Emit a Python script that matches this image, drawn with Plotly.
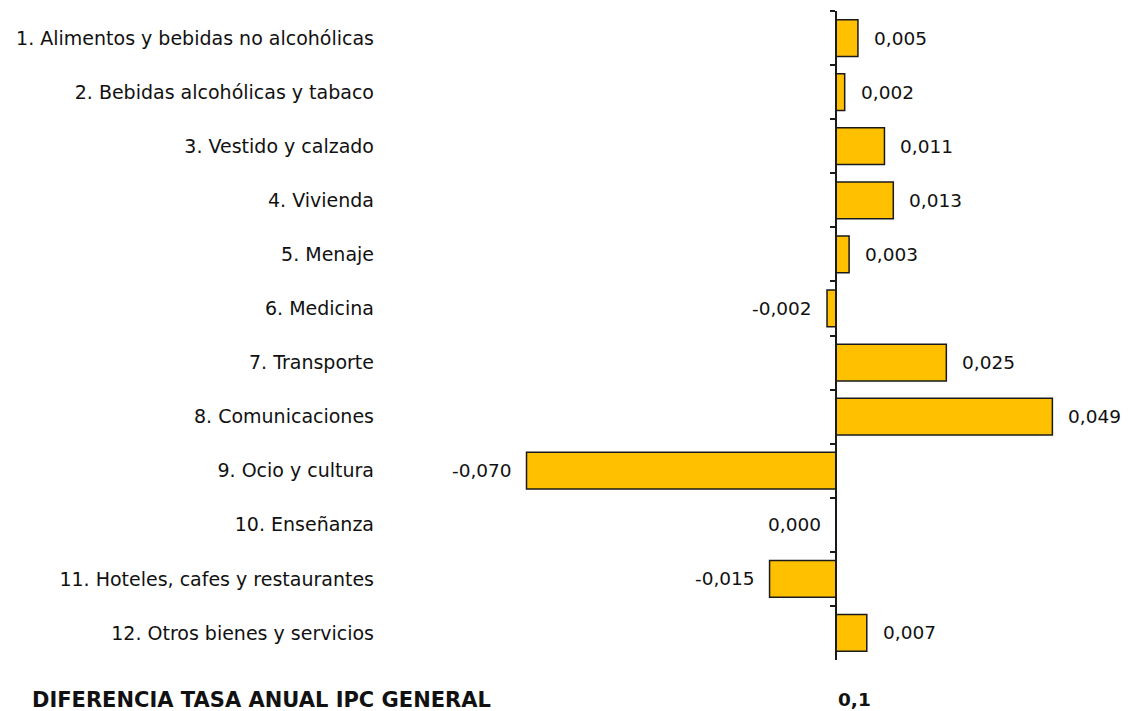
import plotly.graph_objects as go

categories = [
    "1. Alimentos y bebidas no alcohólicas",
    "2. Bebidas alcohólicas y tabaco",
    "3. Vestido y calzado",
    "4. Vivienda",
    "5. Menaje",
    "6. Medicina",
    "7. Transporte",
    "8. Comunicaciones",
    "9. Ocio y cultura",
    "10. Enseñanza",
    "11. Hoteles, cafes y restaurantes",
    "12. Otros bienes y servicios",
]
values = [0.005, 0.002, 0.011, 0.013, 0.003, -0.002, 0.025, 0.049, -0.070, 0.000, -0.015, 0.007]
footer_label = "DIFERENCIA TASA ANUAL IPC GENERAL"
footer_value = "0,1"

def fmt(v):
    return f"{v:.3f}".replace(".", ",")

W, H = 1128, 711
L, R, T, B = 382, 8, 11, 51
x_min, x_max = -0.1027, 0.0643
zero_pos = (0 - x_min) / (x_max - x_min)

FONT = "DejaVu Sans, Arial, sans-serif"
FS = 18.5
TXT = "#111111"

fig = go.Figure()
fig.add_trace(go.Bar(
    x=values, y=categories, orientation="h",
    marker=dict(color="#FFC000", line=dict(color="#1a1a1a", width=1.5)),
    width=0.68, hoverinfo="skip", showlegend=False,
))
# invisible trace for the zero axis
fig.add_trace(go.Scatter(
    x=[0] * len(categories), y=categories, yaxis="y2", mode="markers",
    marker=dict(opacity=0), hoverinfo="skip", showlegend=False,
))

annotations = []
for c, v in zip(categories, values):
    if v > 0:
        annotations.append(dict(x=v, y=c, text=fmt(v), xanchor="left", xshift=14, showarrow=False,
                                font=dict(family=FONT, size=FS, color=TXT)))
    else:
        annotations.append(dict(x=v, y=c, text=fmt(v), xanchor="right", xshift=-13, showarrow=False,
                                font=dict(family=FONT, size=FS, color=TXT)))

pw = W - L - R
ph = H - T - B
annotations.append(dict(xref="paper", yref="paper", x=(30 - L) / pw, y=-40 / ph,
                        text="<b>" + footer_label + "</b>", xanchor="left", yanchor="middle",
                        showarrow=False, font=dict(family=FONT, size=21, color=TXT)))
annotations.append(dict(xref="x", yref="paper", x=0, y=-40 / ph,
                        text="<b>" + footer_value + "</b>", xanchor="left", yanchor="middle",
                        showarrow=False, font=dict(family=FONT, size=FS, color=TXT)))

n = len(categories)
fig.update_layout(
    width=W, height=H,
    margin=dict(l=L, r=R, t=T, b=B),
    plot_bgcolor="white", paper_bgcolor="white",
    xaxis=dict(range=[x_min, x_max], showgrid=False, zeroline=False, showticklabels=False,
               showline=False, ticks=""),
    yaxis=dict(range=[n - 0.5, -0.5], showgrid=False, zeroline=False, showline=False, ticks="",
               tickfont=dict(family=FONT, size=19, color=TXT), ticklabelstandoff=7, automargin=False),
    yaxis2=dict(overlaying="y", matches="y", anchor="free", position=zero_pos, side="left",
                showline=True, linecolor="#1a1a1a", linewidth=2,
                ticks="outside", ticklen=5, tickwidth=1.5, tickcolor="#1a1a1a",
                tickson="boundaries", showticklabels=False, showgrid=False, zeroline=False),
    annotations=annotations,
)

fig.write_html("out.html", config={"displayModeBar": False},
               post_script="document.body.style.margin='0px';")
